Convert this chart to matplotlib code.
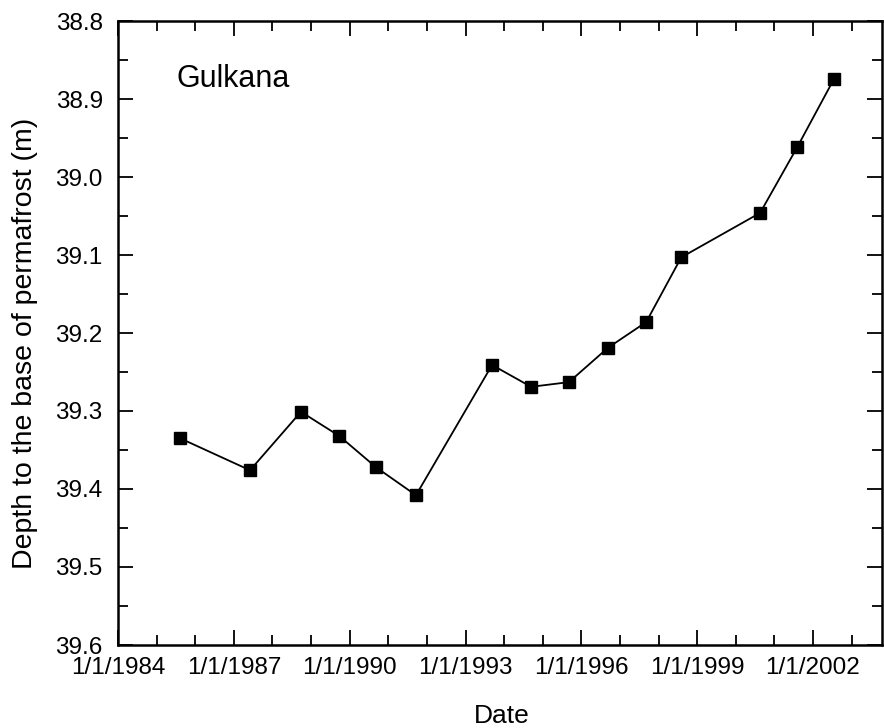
import matplotlib
matplotlib.use("Agg")
import matplotlib.pyplot as plt
import matplotlib.dates as mdates
from matplotlib.ticker import FixedLocator, MultipleLocator, FuncFormatter
import datetime as dt

plt.rcParams['font.family'] = ['Liberation Sans', 'DejaVu Sans']

# Data
dates = ["1985-08-11", "1987-06-03", "1988-09-27", "1989-09-24", "1990-09-06",
         "1991-09-20", "1993-09-09", "1994-09-13", "1995-09-06", "1996-09-09",
         "1997-09-06", "1998-08-04", "2000-08-19", "2001-08-04", "2002-07-20"]
depth = [39.335, 39.376, 39.301, 39.332, 39.372,
         39.408, 39.241, 39.269, 39.263, 39.219,
         39.186, 39.103, 39.046, 38.962, 38.874]
tick_years = [1984, 1987, 1990, 1993, 1996, 1999, 2002]
y_ticks = [38.8, 38.9, 39.0, 39.1, 39.2, 39.3, 39.4, 39.5, 39.6]

x = [dt.datetime.strptime(d, "%Y-%m-%d") for d in dates]

fig = plt.figure(figsize=(8.84, 7.28), dpi=100)
ax = fig.add_axes([118/884, 83/728, (882-118)/884, (645-21)/728])

ax.plot(x, depth, color='black', linewidth=1.3, marker='s', markersize=9,
        markerfacecolor='black', markeredgecolor='black')

ax.set_xlim(dt.datetime(1984, 1, 1), dt.datetime(2003, 10, 16))
ax.set_ylim(39.6, 38.8)

ax.xaxis.set_major_locator(FixedLocator([mdates.date2num(dt.datetime(yy, 1, 1)) for yy in tick_years]))
ax.xaxis.set_minor_locator(mdates.YearLocator(1))
ax.xaxis.set_major_formatter(FuncFormatter(lambda v, p: "1/1/%d" % mdates.num2date(v).year))

ax.yaxis.set_major_locator(FixedLocator(y_ticks))
ax.yaxis.set_minor_locator(MultipleLocator(0.05))
ax.yaxis.set_major_formatter(FuncFormatter(lambda v, p: "%.1f" % v))

ax.tick_params(which='both', direction='in', top=True, right=True, width=1.3, colors='black')
ax.tick_params(which='major', length=11, labelsize=17.5)
ax.tick_params(axis='x', which='major', pad=9)
ax.tick_params(axis='y', which='major', pad=11)
ax.tick_params(which='minor', length=7)
for s in ax.spines.values():
    s.set_linewidth(1.8)

ax.set_xlabel("Date", fontsize=19, va='center')
ax.xaxis.set_label_coords((502-118)/764, (645-716)/624)
ax.set_ylabel("Depth to the base of permafrost (m)", fontsize=20.5, va='center')
ax.yaxis.set_label_coords((25-118)/764, (645-343)/624)

ax.text((177-118)/764, (645-79)/624, "Gulkana", transform=ax.transAxes,
        fontsize=22, va='center', ha='left')

fig.savefig("out.png", dpi=100)
